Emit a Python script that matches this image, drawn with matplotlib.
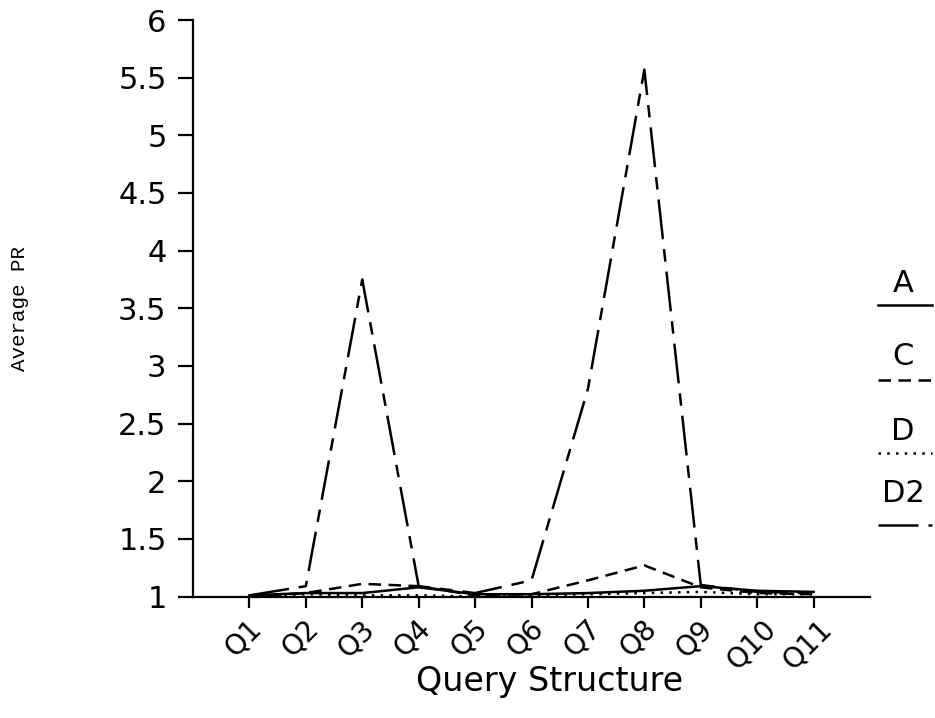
import matplotlib
matplotlib.use("Agg")
import matplotlib.pyplot as plt
import matplotlib.transforms as mtransforms
from matplotlib.lines import Line2D

# data
queries = ["Q1", "Q2", "Q3", "Q4", "Q5", "Q6", "Q7", "Q8", "Q9", "Q10", "Q11"]
pr_a = [1.01, 1.03, 1.03, 1.08, 1.02, 1.02, 1.03, 1.05, 1.09, 1.05, 1.04]
pr_c = [1.00, 1.03, 1.11, 1.09, 1.01, 1.02, 1.14, 1.27, 1.08, 1.03, 1.02]
pr_d = [1.00, 1.02, 1.01, 1.01, 1.00, 1.01, 1.02, 1.03, 1.04, 1.02, 1.02]
pr_d2 = [1.01, 1.09, 3.75, 1.09, 1.03, 1.14, 2.80, 5.57, 1.10, 1.04, 1.03]

styles = {
    "A": "-",
    "C": (0, (5, 3)),
    "D": (0, (1, 2.5)),
    "D2": (0, (16, 4, 5, 4)),
}

fig = plt.figure(figsize=(9.35, 7.18), dpi=100)
ax = fig.add_axes([0.2064, 0.1692, 0.7241, 0.8029])

x = list(range(1, len(queries) + 1))
lw = 1.8
ax.plot(x, pr_a, color="black", lw=lw, linestyle=styles["A"])
ax.plot(x, pr_c, color="black", lw=lw, linestyle=styles["C"])
ax.plot(x, pr_d, color="black", lw=lw, linestyle=styles["D"])
ax.plot(x, pr_d2, color="black", lw=lw, linestyle=styles["D2"])

ax.set_xlim(0, 12)
ax.set_ylim(1, 6)
ax.set_yticks([1, 1.5, 2, 2.5, 3, 3.5, 4, 4.5, 5, 5.5, 6])
ax.set_yticklabels(["1", "1.5", "2", "2.5", "3", "3.5", "4", "4.5", "5", "5.5", "6"])
ax.set_xticks(x)
ax.set_xticklabels(queries, rotation=45, ha="center", va="top")

for s in ["top", "right"]:
    ax.spines[s].set_visible(False)
for s in ["left", "bottom"]:
    ax.spines[s].set_linewidth(1.6)

ax.tick_params(axis="y", length=11, width=1.6, labelsize=22, pad=8)
ax.tick_params(axis="x", length=8, width=1.6, labelsize=20, pad=5)
shift = mtransforms.ScaledTranslation(-6 / 100, 0, fig.dpi_scale_trans)
for lab in ax.get_xticklabels():
    lab.set_transform(lab.get_transform() + shift)

ax.set_xlabel("Query Structure", fontsize=24)
ax.xaxis.set_label_coords(0.527, -0.118)
ax.set_ylabel("Average PR", fontsize=15, family="Liberation Mono")
ax.yaxis.set_label_coords(-0.242, 0.5)

# legend: label above a short line sample
legend_y = [(283, 305), (356, 380), (431, 453), (494, 525)]
for (name, ls), (ty, ly) in zip(styles.items(), legend_y):
    fig.text(903 / 935, 1 - ty / 718, name, fontsize=22, ha="center", va="center")
    fig.add_artist(Line2D([878 / 935, 932 / 935], [1 - ly / 718] * 2,
                          transform=fig.transFigure, color="black",
                          lw=lw, linestyle=ls))

fig.savefig("out.png", dpi=100)
